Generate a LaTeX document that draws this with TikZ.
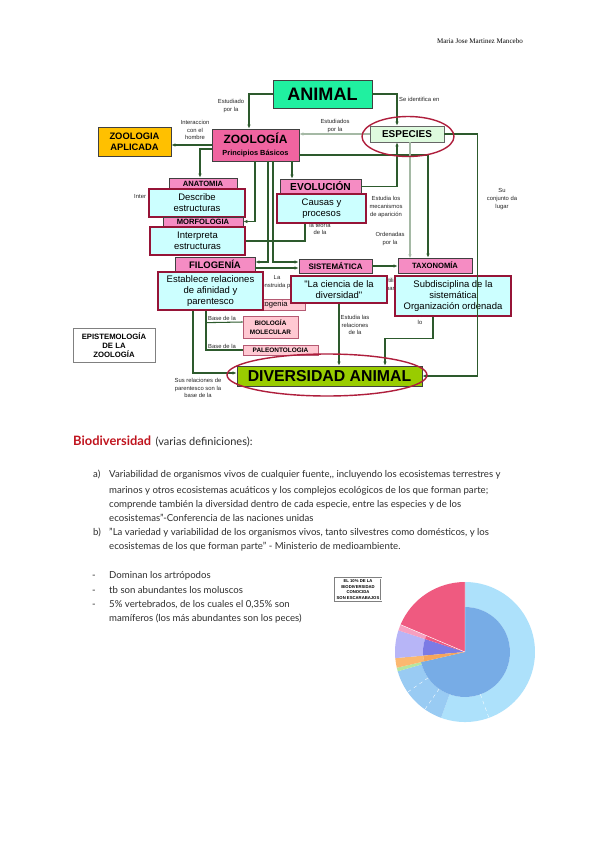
\documentclass[tikz,border=0pt]{standalone}
\usepackage{fontspec}
\setmainfont{Lato}
\newfontfamily\arialf{Liberation Sans}
\newfontfamily\headf{Liberation Serif}
\usetikzlibrary{arrows.meta, calc, positioning}

\newdimen\px \px=0.85358pt

\definecolor{animalgreen}{RGB}{32,240,160}
\definecolor{zoopink}{RGB}{240,100,160}
\definecolor{hdrpink}{RGB}{245,140,195}
\definecolor{cyanbox}{RGB}{204,255,255}
\definecolor{boxred}{RGB}{150,20,55}
\definecolor{aplicorange}{RGB}{255,192,0}
\definecolor{espgreen}{RGB}{222,250,222}
\definecolor{divgreen}{RGB}{153,204,0}
\definecolor{lightpink}{RGB}{255,200,210}
\definecolor{linegreen}{RGB}{45,90,45}
\definecolor{linepale}{RGB}{165,185,165}
\definecolor{ellred}{RGB}{175,30,60}
\definecolor{titlered}{RGB}{192,20,30}
\definecolor{bodygrey}{RGB}{45,45,45}
\definecolor{pieblue}{RGB}{173,225,251}
\definecolor{pieblueb}{RGB}{153,203,243}
\definecolor{pieinner}{RGB}{119,172,230}
\definecolor{piered}{RGB}{239,90,128}
\definecolor{piepinkl}{RGB}{247,160,192}
\definecolor{pielav}{RGB}{183,181,247}
\definecolor{pieviolet}{RGB}{123,123,229}
\definecolor{pieorange}{RGB}{251,184,112}
\definecolor{pieorangeb}{RGB}{246,166,92}
\definecolor{piegreen}{RGB}{181,230,160}

% annular sector: colour, start, end (page angles), inner, outer radius
\newcommand{\piesec}[5]{%
  \fill[#1] (-#2:#5) arc[start angle=-#2, end angle=-#3, radius=#5]
    -- (-#3:#4) arc[start angle=-#3, end angle=-#2, radius=#4] -- cycle;}

\tikzset{
  box/.style={draw=black!75, line width=0.6pt, inner sep=0pt, align=center, font=\arialf\bfseries},
  hdr/.style={box, fill=hdrpink},
  cbox/.style={draw=boxred, line width=1.1pt, fill=cyanbox, inner sep=0pt, align=center,
    font=\arialf\fontsize{8.1}{9.4}\selectfont},
  lbl/.style={inner sep=0pt, align=center, text=black!85, font=\arialf\fontsize{5}{6.5}\selectfont},
  con/.style={draw=linegreen, line width=0.9pt, -{Latex[length=3.5pt,width=3pt]}},
  pale/.style={con, draw=linepale},
  plain/.style={draw=linegreen, line width=0.9pt},
  ring/.style={draw=ellred, line width=1.2pt},
  body/.style={anchor=base west, inner sep=0pt, text=bodygrey, font=\fontsize{8.2}{9}\selectfont},
}

\begin{document}
\begin{tikzpicture}[x=0.03cm, y=-0.03cm]
\useasboundingbox (0,0) rectangle (600,848);
\fill[white] (0,0) rectangle (600,848);

\node[anchor=base east, inner sep=0pt, font=\headf\fontsize{6}{7}\selectfont] (author) at (523,44) {Maria Jose Martinez Mancebo};

% labels (some lie partly under the boxes)
\node[lbl] (lbStud) at (231,106) {Estudiado\\por la};
\node[lbl, anchor=west] (lbIdent) at (399,99) {Se identifica en};
\node[lbl] (lbStuds) at (335,126) {Estudiados\\por la};
\node[lbl] (lbInter) at (195,130) {Interaccion\\con el\\hombre};
\node[lbl, anchor=west] (lbInt) at (134,197) {Inter};
\node[lbl] (lbMecan) at (386,207) {Estudia los\\mecanismos\\de aparición};
\node[lbl] (lbTeoria) at (320,229) {la teoría\\de la};
\node[lbl] (lbOrden) at (390,239) {Ordenadas\\por la};
\node[lbl] (lbConj) at (502,199) {Su\\conjunto da\\lugar};
\node[lbl] (lbConst) at (277,282) {La\\construida por};
\node[lbl] (lbUtil) at (392,285) {Utiliza\\para};
\node[lbl] (lbOrd) at (420,319) {Ordena\\lo};
\node[lbl] (lbRel) at (355,325) {Estudia las\\relaciones\\de la};
\node[lbl, anchor=south west] (lbBaseA) at (208,321) {Base de la};
\node[lbl, anchor=south west] (lbBaseB) at (208,349) {Base de la};
\node[lbl] (lbParen) at (198,388) {Sus relaciones de\\parentesco son la\\base de la};

% boxes
\node[box, fill=animalgreen, minimum width=99\px, minimum height=28\px,
  font=\arialf\bfseries\fontsize{15.4}{16}\selectfont] (animal) at (322.5,94) {ANIMAL};
\node[box, fill=zoopink, minimum width=87\px, minimum height=32\px] (zoo) at (255.5,145)
  {{\fontsize{10.2}{11}\selectfont ZOOLOGÍA}\\[-1pt]{\fontsize{6.3}{7}\selectfont Principios Básicos}};
\node[box, fill=aplicorange, minimum width=73\px, minimum height=29\px,
  font=\arialf\bfseries\fontsize{8}{9.4}\selectfont] (aplic) at (134.5,141.5) {ZOOLOGIA\\APLICADA};
\node[box, fill=espgreen, draw=black!60, minimum width=74\px, minimum height=16\px,
  font=\arialf\bfseries\fontsize{8.5}{9}\selectfont] (esp) at (407,134) {ESPECIES};

\node[hdr, minimum width=68\px, minimum height=12\px, font=\arialf\bfseries\fontsize{6.5}{7}\selectfont] (anat) at (203,184) {ANATOMIA};
\node[cbox, minimum width=96\px, minimum height=28\px] (desc) at (197,203) {Describe\\estructuras};
\node[hdr, minimum width=80\px, minimum height=9\px, font=\arialf\bfseries\fontsize{6.5}{7}\selectfont] (morf) at (203,221.5) {MORFOLOGIA};
\node[cbox, minimum width=95\px, minimum height=28\px] (interp) at (197.5,241) {Interpreta\\estructuras};

\node[hdr, minimum width=81\px, minimum height=15\px, font=\arialf\bfseries\fontsize{8.7}{9}\selectfont] (evol) at (320.5,186.5) {EVOLUCIÓN};
\node[cbox, minimum width=89\px, minimum height=29\px] (causas) at (321.5,208.5) {Causas y\\procesos};

\node[box, fill=lightpink, draw=boxred!70, minimum width=70\px, minimum height=11\px,
  font=\arialf\fontsize{6.5}{7}\selectfont] (onto) at (270,304.5) {Ontogenia};
\node[hdr, minimum width=80\px, minimum height=15\px, font=\arialf\bfseries\fontsize{8.1}{9}\selectfont] (filo) at (215,264.5) {FILOGENÍA};
\node[cbox, minimum width=105\px, minimum height=38\px] (estab) at (210.5,291) {Establece relaciones\\de afinidad y\\parentesco};

\node[hdr, minimum width=73\px, minimum height=14\px, font=\arialf\bfseries\fontsize{6.8}{7}\selectfont] (sist) at (335.5,266) {SISTEMÁTICA};
\node[cbox, minimum width=96\px, minimum height=27\px] (ciencia) at (339,289.5) {"La ciencia de la\\diversidad"};

\node[hdr, minimum width=74\px, minimum height=15\px, font=\arialf\bfseries\fontsize{6.5}{7}\selectfont] (taxo) at (435,265.5) {TAXONOMÍA};
\node[cbox, minimum width=116\px, minimum height=40\px] (subd) at (453,296) {Subdisciplina de la\\sistemática\\Organización ordenada};

\node[box, fill=lightpink, draw=boxred!70, minimum width=55\px, minimum height=22\px,
  font=\arialf\bfseries\fontsize{5.5}{7.5}\selectfont] (biomol) at (270.5,327) {BIOLOGÍA\\MOLECULAR};
\node[box, fill=lightpink, draw=boxred!70, minimum width=75\px, minimum height=10\px,
  font=\arialf\bfseries\fontsize{5.5}{6}\selectfont] (paleo) at (280.5,350) {PALEONTOLOGIA};

\node[box, fill=white, draw=black!50, minimum width=82\px, minimum height=34\px,
  font=\arialf\bfseries\fontsize{6.6}{8}\selectfont] (epist) at (114,345) {EPISTEMOLOGÍA\\DE LA\\ZOOLOGÍA};

\node[box, fill=divgreen, minimum width=185\px, minimum height=20\px,
  font=\arialf\bfseries\fontsize{13.5}{14}\selectfont] (div) at (329.5,376) {DIVERSIDAD ANIMAL};

% connectors
\coordinate (zbA) at ($(zoo.south)+(-0.5,0)$);
\coordinate (zbB) at ($(zoo.south)+(12.5,0)$);
\coordinate (zbC) at ($(zoo.south)+(17.5,0)$);
\coordinate (zbD) at ($(zoo.south)+(36.5,0)$);

\draw[con] (animal.west) -| ($(zoo.north)+(-6.5,0)$);
\draw[con] (animal.east) -| ($(esp.north)+(-10,0)$);
\draw[pale] (esp.west) -- (esp.west -| zoo.east);
\draw[con] (zoo.west) -- (zoo.west -| aplic.east);
\draw[con] ($(zoo.west)+(0,4)$) -| ($(anat.north)+(-3,0)$);
\draw[con] (zbA) |- (morf.east);
\draw[con, line width=1.3pt] (zbB) |- ($(filo.east)+(0,-2.5)$);
\draw[con] (zbC) |- ($(sist.west)+(0,-4)$);
\draw[con] (zbD) -- (zbD |- evol.north);
\draw[con, line width=1.3pt] ($(zoo.east)+(0,10)$) -| ($(taxo.north)+(-7,0)$);
\draw[con] (evol.east) -| ($(esp.south)+(-10,0)$);
\draw[pale] ($(esp.south)+(3,0)$) -- ($(esp.south)+(3,116)$);
\draw[con] (esp.east) -- ++(33,0) |- (div.east);
\draw[plain] (interp.east) -| ($(causas.south)+(-16.5,0)$);
\draw[con] ($(filo.east)+(0,3.5)$) -- ($(sist.west)+(0,2)$);
\draw[con] (sist.east) -- (sist.east -| taxo.west);
\draw[con] (ciencia.south) -- (ciencia.south |- div.north);
\draw[con] ($(subd.south)+(-20,0)$) -- ++(0,22) -| ($(div.north)+(55.5,0)$);
\draw[con] ($(estab.south)+(-17.5,0)$) |- ($(div.west)+(0,-3)$);
\draw[plain] ($(estab.south)+(-4.5,0)$) |- (paleo.west);
\draw[plain] ($(estab.south)+(-4.5,12)$) -- ($(biomol.west)+(0,-5)$);

% rings
\draw[ring] (408,136.5) ellipse [x radius=46, y radius=20];
\draw[ring] (327,375) ellipse [x radius=100, y radius=21];

% text part
\node[anchor=base west, inner sep=0pt, text=titlered, font=\bfseries\fontsize{11}{12}\selectfont] (bioTitle) at (73,445) {Biodiversidad};
\node[anchor=base west, inner sep=0pt, text=bodygrey, font=\fontsize{9.4}{10}\selectfont] (bioSub) at ($(bioTitle.base east)+(4,0)$) {(varias definiciones):};

\node[body] (defA) at (93,477) {a)};
\node[body] (defA1) at (109,477) {Variabilidad de organismos vivos de cualquier fuente,{},{} incluyendo los ecosistemas terrestres y};
\node[body] (defA2) at (109,493) {marinos y otros ecosistemas acuáticos y los complejos ecológicos de los que forman parte;};
\node[body] (defA3) at (109,507) {comprende también la diversidad dentro de cada especie, entre las especies y de los};
\node[body] (defA4) at (109,521) {ecosistemas"-Conferencia de las naciones unidas};
\node[body] (defB) at (93,535) {b)};
\node[body] (defB1) at (109,535) {"La variedad y variabilidad de los organismos vivos, tanto silvestres como domésticos, y los};
\node[body] (defB2) at (109,549) {ecosistemas de los que forman parte" - Ministerio de medioambiente.};

\node[body] (dashA) at (92,578) {-};
\node[body] (itemA) at (109,578) {Dominan los artrópodos};
\node[body] (dashB) at (92,593) {-};
\node[body] (itemB) at (109,593) {tb son abundantes los moluscos};
\node[body] (dashC) at (92,607) {-};
\node[body] (itemC) at (109,607) {5\% vertebrados, de los cuales el 0,35\% son};
\node[body] (itemD) at (109,621) {mamíferos (los más abundantes son los peces)};

% pie chart
\begin{scope}[shift={(465,652)}]
  \piesec{pieblue}{250}{450}{45}{70}
  \piesec{pieblueb}{196}{250}{45}{70}
  \piesec{piegreen}{193}{196}{42}{70}
  \piesec{pieorange}{185}{193}{42}{70}
  \piesec{pielav}{162}{185}{42}{70}
  \piesec{piepinkl}{157}{162}{42}{70}
  \piesec{piered}{90}{157}{0.01}{70}
  \piesec{pieinner}{193}{450}{0.01}{45}
  \piesec{pieviolet}{162}{185}{0.01}{42}
  \piesec{pieorangeb}{185}{193}{0.01}{42}
  \piesec{piered}{157}{162}{0.01}{42}
  \draw[white, line width=0.4pt] (0,0) -- (-90:70) (0,0) -- (-157:70);
  \draw[white, line width=0.3pt, dashed] (-215:45) -- (-215:70) (-235:45) -- (-235:70) (-290:45) -- (-290:70);
\end{scope}
\node[draw=black!50, double=white, double distance=0.6pt, line width=0.4pt, fill=white, inner sep=1.5pt, align=center,
  font=\arialf\bfseries\fontsize{3.6}{4.6}\selectfont] (pieTitle) at (358,589.5) {EL 10\% DE LA\\BIODIVERSIDAD\\CONOCIDA\\SON ESCARABAJOS};
\end{tikzpicture}
\end{document}
